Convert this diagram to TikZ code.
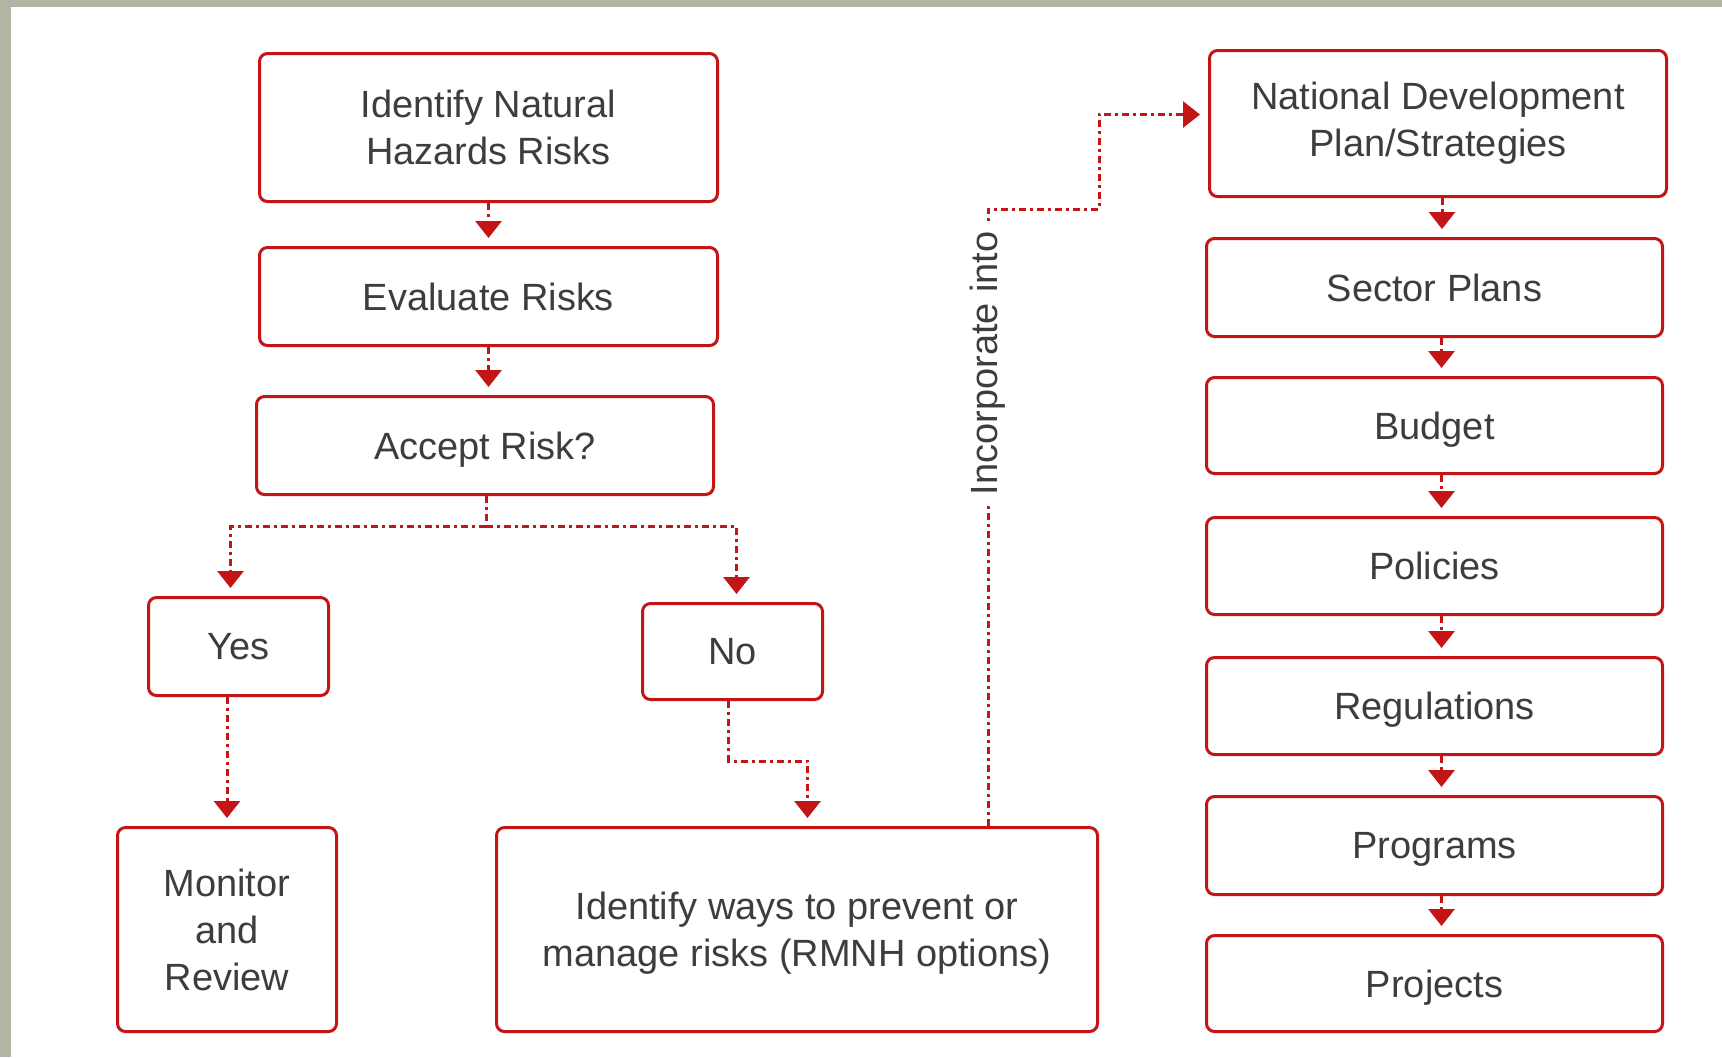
\documentclass[tikz,border=0pt]{standalone}
\usepackage{fontspec}
\setmainfont{Liberation Sans}
\usepackage{tikz}
\usetikzlibrary{calc,arrows.meta}
\definecolor{rouge}{HTML}{C31515}
\definecolor{texte}{HTML}{3D3D3D}
\definecolor{fond}{HTML}{B4B4A4}
\tikzstyle{cadre} = [rectangle, rounded corners=0.8mm, draw=rouge, line width=0.3mm, fill=white, text=texte, align=center, font=\fontsize{10.8}{13.4}\selectfont, inner sep=0pt, text depth=0pt]
\tikzstyle{pointille} = [draw=rouge, line width=0.3mm, dash pattern=on 0.7mm off 0.4mm on 0.3mm off 0.4mm]
\tikzstyle{fleche} = [pointille, -{Triangle[width=2.6mm,length=1.7mm]}, shorten >=0.8mm]
\tikzstyle{etiquette} = [rotate=90, fill=white, text=texte, font=\fontsize{10.8}{13.4}\selectfont, inner sep=1mm]

\begin{document}
\begin{tikzpicture}[x=0.1mm, y=-0.1mm]

        \fill[fond] (0,0) rectangle (1722,1057);
        \fill[white] (11,7) rectangle (1722,1057);

        \node (hazard) [cadre, anchor=north west, minimum width=45.8mm, minimum height=14.8mm] at (258,52) {Identify Natural\\Hazards Risks};
        \node (evaluate) [cadre, anchor=north west, minimum width=45.8mm, minimum height=9.8mm] at (258,246) {Evaluate Risks};
        \node (accept) [cadre, anchor=north west, minimum width=45.7mm, minimum height=9.8mm] at (255,395) {Accept Risk?};
        \node (yes) [cadre, anchor=north west, minimum width=18mm, minimum height=9.8mm] at (147,596) {Yes};
        \node (no) [cadre, anchor=north west, minimum width=18mm, minimum height=9.6mm] at (641,602) {No};
        \node (monitor) [cadre, anchor=north west, minimum width=21.9mm, minimum height=20.4mm] at (116,826) {Monitor\\and\\Review};
        \node (ways) [cadre, anchor=north west, minimum width=60.1mm, minimum height=20.4mm] at (495,826) {Identify ways to prevent or\\manage risks (RMNH options)};

        \node (ndp) [cadre, anchor=north west, minimum width=45.7mm, minimum height=14.6mm, text depth=0.8mm] at (1208,49) {National Development\\Plan/Strategies};
        \node (sector) [cadre, anchor=north west, minimum width=45.6mm, minimum height=9.8mm] at (1205,237) {Sector Plans};
        \node (budget) [cadre, anchor=north west, minimum width=45.6mm, minimum height=9.6mm] at (1205,376) {Budget};
        \node (policies) [cadre, anchor=north west, minimum width=45.6mm, minimum height=9.7mm] at (1205,516) {Policies};
        \node (regul) [cadre, anchor=north west, minimum width=45.6mm, minimum height=9.7mm] at (1205,656) {Regulations};
        \node (programs) [cadre, anchor=north west, minimum width=45.6mm, minimum height=9.8mm] at (1205,795) {Programs};
        \node (projects) [cadre, anchor=north west, minimum width=45.6mm, minimum height=9.6mm] at (1205,934) {Projects};

        \coordinate (split) at (486,526);
        \coordinate (c1) at (988,209);
        \coordinate (c2) at (1099,209);

        \draw[fleche] (hazard.south) -- (hazard.south |- evaluate.north);
        \draw[fleche] (evaluate.south) -- (evaluate.south |- accept.north);
        \draw[pointille] (split |- accept.south) -- (split);
        \draw[fleche] (split) -| ([xshift=-0.8mm]yes.north);
        \draw[fleche] (split) -| ([xshift=0.4mm]no.north);
        \draw[fleche] (monitor.north |- yes.south) -- (monitor.north);
        \draw[fleche] ([xshift=-0.4mm]no.south) -- ++(0,60) -| ([xshift=1.05mm]ways.north);
        \draw[fleche] (ways.north -| c1) -- node[etiquette, pos=0.75] {Incorporate into} (c1) -- (c2) |- ([yshift=0.9mm]ndp.west);

        \draw[fleche] ([xshift=0.4mm]ndp.south) -- ([xshift=0.4mm]ndp.south |- sector.north);
        \draw[fleche] ([xshift=0.7mm]sector.south) -- ([xshift=0.7mm]sector.south |- budget.north);
        \draw[fleche] ([xshift=0.7mm]budget.south) -- ([xshift=0.7mm]budget.south |- policies.north);
        \draw[fleche] ([xshift=0.7mm]policies.south) -- ([xshift=0.7mm]policies.south |- regul.north);
        \draw[fleche] ([xshift=0.7mm]regul.south) -- ([xshift=0.7mm]regul.south |- programs.north);
        \draw[fleche] ([xshift=0.7mm]programs.south) -- ([xshift=0.7mm]programs.south |- projects.north);

    \end{tikzpicture}
\end{document}
